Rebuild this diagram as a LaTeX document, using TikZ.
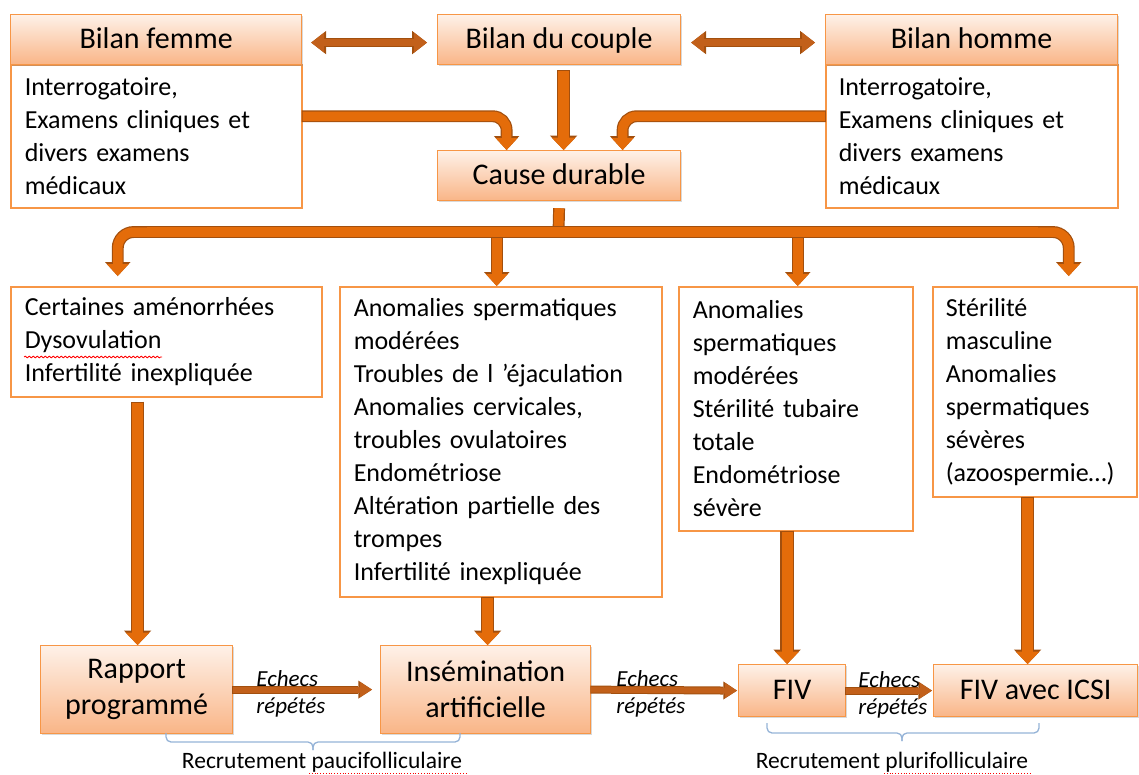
\documentclass[tikz,border=0pt]{standalone}
\usepackage{fontspec}
\setmainfont{Carlito}
\usetikzlibrary{arrows.meta,shadows,calc,decorations.pathmorphing}
\definecolor{boxline}{HTML}{F79646}
\definecolor{hdrtop}{HTML}{FEF1E8}
\definecolor{hdrbot}{HTML}{F9B587}
\definecolor{arrfill}{HTML}{E46C0A}
\definecolor{arrdark}{HTML}{C2601A}
\definecolor{arredge}{HTML}{A24F0E}
\definecolor{bracec}{HTML}{95B3D7}
\tikzset{
  box/.style={draw=boxline, line width=1.5pt, fill=white, align=left, anchor=north west,
    inner xsep=14pt, inner ysep=0pt, font=\fontsize{26}{33}\selectfont},
  hdr/.style={draw=boxline, line width=1.2pt, top color=hdrtop, bottom color=hdrbot,
    anchor=north west, align=center, inner sep=0pt, font=\fontsize{30}{36}\selectfont,
    drop shadow={shadow xshift=1.2pt, shadow yshift=-1.6pt, opacity=0.3}},
  hdrone/.style={hdr, text height=25pt, text depth=7pt},
  blockarrow/.style n args={7}{draw=#7, line width=#1,
    -{Triangle[width=#2,length=#3,line width=0pt]},
    preaction={draw=arredge, line width=#4, shorten <=-0.8pt,
      -{Triangle[width=#5,length=#6,line width=0pt]}}},
  bigarrow/.style={blockarrow={11pt}{24pt}{12.5pt}{13.4pt}{27.5pt}{14.5pt}{arrfill}},
  midarrow/.style={blockarrow={9.5pt}{22pt}{12pt}{11.9pt}{25.5pt}{14pt}{arrfill}},
  smallarrow/.style={blockarrow={6pt}{15pt}{12pt}{8pt}{18pt}{13.6pt}{arrdark}},
  dblarrow/.style={draw=arrdark, line width=7pt,
    {Triangle[width=20pt,length=13pt,line width=0pt]}-{Triangle[width=20pt,length=13pt,line width=0pt]},
    preaction={draw=arredge, line width=9.4pt,
      {Triangle[width=23.5pt,length=15pt,line width=0pt]}-{Triangle[width=23.5pt,length=15pt,line width=0pt]}}},
  busline/.style={draw=arrfill, line width=9.5pt, preaction={draw=arredge, line width=11.9pt}},
  echec/.style={anchor=west, align=left, inner sep=0pt, font=\fontsize{23}{27}\selectfont\itshape},
  recr/.style={inner sep=0pt, font=\fontsize{23.5}{28}\selectfont},
  bracest/.style={draw=bracec, line width=1.3pt, rounded corners=5pt},
  spell/.style={draw=red, line width=0.8pt},
}
\begin{document}
\begin{tikzpicture}[x=1pt,y=-1pt]
\useasboundingbox (0,0) rectangle (1139,774);

% top row
\node[box, text width=263pt, minimum height=143pt] (bF) at (10,64)
  {Interrogatoire,\\Examens cliniques et\\divers examens\\médicaux};
\node[hdrone, minimum width=291pt, minimum height=50pt] (hF) at (10,14) {Bilan femme};
\node[hdrone, minimum width=243pt, minimum height=50pt] (hC) at (437,14) {Bilan du couple};
\node[box, inner xsep=13pt, text width=266pt, minimum height=143pt] (bH) at (825,64)
  {Interrogatoire,\\Examens cliniques et\\divers examens\\médicaux};
\node[hdrone, minimum width=292pt, minimum height=50pt] (hH) at (825,14) {Bilan homme};
\node[hdrone, minimum width=243pt, minimum height=50pt] (cause) at (437,150) {Cause durable};

% middle row
\node[box, text width=283pt, minimum height=110pt] (A) at (10,286)
  {Certaines aménorrhées\\Dysovulation\\Infertilité inexpliquée};
\node[box, text width=294pt, minimum height=310pt] (B) at (339,286)
  {Anomalies spermatiques\\modérées\\Troubles de l ’éjaculation\\Anomalies cervicales,\\troubles ovulatoires\\Endométriose\\Altération partielle des\\trompes\\Infertilité inexpliquée};
\node[box, text width=206pt, minimum height=244pt] (C) at (678,286)
  {Anomalies\\spermatiques\\modérées\\Stérilité tubaire\\totale\\Endométriose\\sévère};
\node[box, inner xsep=13pt, text width=178pt, minimum height=210pt] (D) at (932,286)
  {Stérilité\\masculine\\Anomalies\\spermatiques\\sévères\\(azoospermie…)};

% bottom row
\node[hdr, minimum width=192pt, minimum height=88pt] (rap) at (40,645) {Rapport\\programmé};
\node[hdr, minimum width=210pt, minimum height=88pt] (ins) at (380,645) {Insémination\\artificielle};
\node[hdrone, minimum width=107pt, minimum height=52pt] (fiv) at (738,664) {FIV};
\node[hdrone, minimum width=204pt, minimum height=52pt] (icsi) at (933,664) {FIV avec ICSI};

% top arrows
\draw[dblarrow] ([xshift=9pt,yshift=-3pt]hF.east) -- ([xshift=-10pt,yshift=-3pt]hC.west);
\draw[dblarrow] ([xshift=10pt,yshift=-3pt]hC.east) -- ([xshift=-10pt,yshift=-3pt]hH.west);
\draw[bigarrow] ([xshift=4.5pt,yshift=-6pt]hC.south) -- ([xshift=4.5pt]cause.north);
\draw[midarrow, rounded corners=14pt] ([yshift=20pt]bF.east) -| ([xshift=-52.5pt]cause.north);
\draw[midarrow, rounded corners=14pt] ([yshift=20pt]bH.west) -| ([xshift=63.5pt]cause.north);

% distribution bus
\coordinate (bus) at (558.5,232);
\coordinate (busL) at (147,232);
\coordinate (busR) at (1038,232);
\draw[busline] ([yshift=-7pt]cause.south) -- (bus);
\draw[midarrow, rounded corners=16pt] (busL) -| ([xshift=-48.5pt,yshift=10pt]A.north);
\draw[midarrow, rounded corners=16pt] (busR) -| ([xshift=34pt,yshift=10pt]D.north);
\draw[midarrow] ($(B.north |- bus)+(-4,2)$) -- ($(B.north)+(-4,0)$);
\draw[midarrow] ($(C.north |- bus)+(2,2)$) -- ($(C.north)+(2,0)$);
\draw[busline] (busL) -- (busR);

% lower vertical arrows
\draw[bigarrow] ($(rap.north |- A.south)+(1,5)$) -- ($(rap.north)+(1,0)$);
\draw[bigarrow] ($(ins.north |- B.south)+(2,0)$) -- ($(ins.north)+(2,0)$);
\draw[bigarrow] ($(fiv.north |- C.south)+(-5,0)$) -- ($(fiv.north)+(-5,0)$);
\draw[bigarrow] ($(icsi.north |- D.south)+(-8,0)$) -- ($(icsi.north)+(-8,0)$);

% horizontal arrows
\draw[smallarrow] (rap.east) -- ([xshift=-8pt]ins.west);
\draw[smallarrow] (ins.east) -- ([xshift=-1pt]fiv.west);
\draw[smallarrow] (fiv.east) -- ([xshift=-1pt]icsi.west);
\node[echec] (e1) at ($(rap.east)+(23,4)$) {Echecs\\répétés};
\node[echec] (e2) at ($(ins.east)+(25,4)$) {Echecs\\répétés};
\node[echec] (e3) at ($(fiv.east)+(12,4)$) {Echecs\\répétés};

% braces
\draw[bracest] (166,733) -- (166,742) -- (313,742) -- (313,750);
\draw[bracest] (460,733) -- (460,742) -- (313,742) -- (313,750);
\node[recr] (r1) at (322,762) {Recrutement paucifolliculaire};
\draw[bracest] (767,723) -- (767,733) -- (902,733) -- (902,741);
\draw[bracest] (1039,723) -- (1039,733) -- (902,733) -- (902,741);
\node[recr] (r2) at (892,762) {Recrutement plurifolliculaire};

% spelling marks
\draw[spell, decorate, decoration={snake, amplitude=0.9pt, segment length=4pt}] (24,357) -- (162,357);
\draw[spell, dotted] (309,773) -- (467,773);
\draw[spell, dotted] (884,773) -- (1032,773);
\end{tikzpicture}
\end{document}
